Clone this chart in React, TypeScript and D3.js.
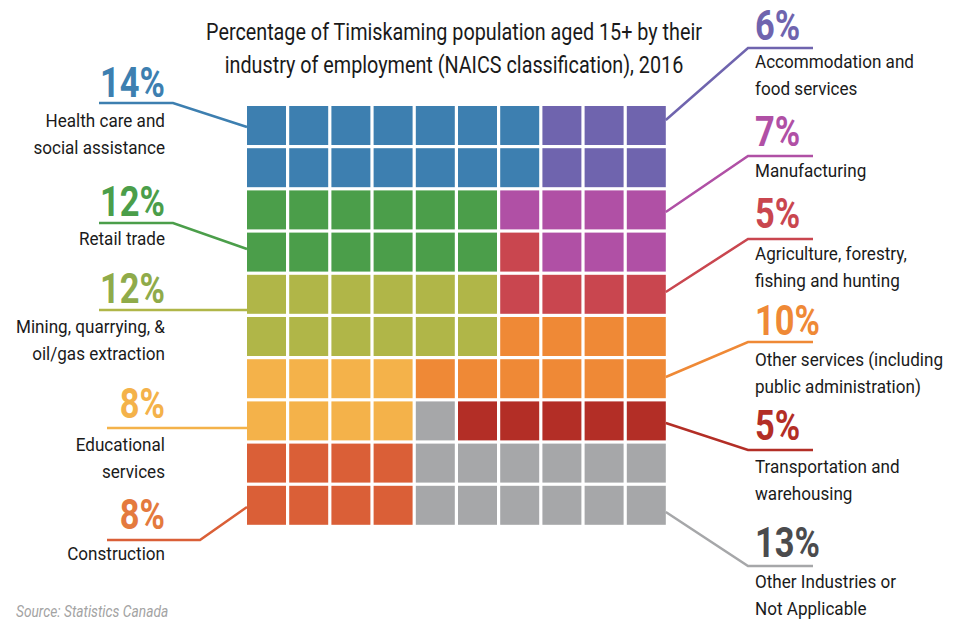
import React from "react";
import * as d3 from "d3";

const categories = [
  "Health care and social assistance",
  "Retail trade",
  "Mining, quarrying, & oil/gas extraction",
  "Educational services",
  "Construction",
  "Accommodation and food services",
  "Manufacturing",
  "Agriculture, forestry, fishing and hunting",
  "Other services (including public administration)",
  "Transportation and warehousing",
  "Other Industries or Not Applicable",
];
const labelLines = [
  ["Health care and", "social assistance"],
  ["Retail trade"],
  ["Mining, quarrying, &", "oil/gas extraction"],
  ["Educational", "services"],
  ["Construction"],
  ["Accommodation and", "food services"],
  ["Manufacturing"],
  ["Agriculture, forestry,", "fishing and hunting"],
  ["Other services (including", "public administration)"],
  ["Transportation and", "warehousing"],
  ["Other Industries or", "Not Applicable"],
];
const values = [14, 12, 12, 8, 8, 6, 7, 5, 10, 5, 13];
const sides = ["left", "left", "left", "left", "left", "right", "right", "right", "right", "right", "right"];
const cellColors = [
  "#3d7fb0", "#4b9e4a", "#b0b648", "#f4b24a", "#da5f37",
  "#6f64ae", "#b050a5", "#c9464f", "#ef8936", "#b32e26", "#a6a7a9",
];
const pctColors = [
  "#3d7fb0", "#4b9e4a", "#8fab4a", "#f4b24a", "#e47a3e",
  "#6f64ae", "#b050a5", "#c9464f", "#ef8936", "#b32e26", "#4b4b4d",
];
const lineColors = [
  "#3d7fb0", "#4b9e4a", "#b0b648", "#f4b24a", "#da5f37",
  "#6f64ae", "#b050a5", "#c9464f", "#ef8936", "#b32e26", "#a6a7a9",
];
const titleLines = [
  "Percentage of Timiskaming population aged 15+ by their",
  "industry of employment (NAICS classification), 2016",
];
const sourceText = "Source: Statistics Canada";

// annotation layout (pixels): pct baseline, underline y, outer x of underline, elbow x, end y at grid, first label baseline
const annLayout = [
  { pctY: 97, lineY: 103, outerX: 99, elbowX: 173, endY: 127, labelY: 127 },
  { pctY: 216, lineY: 223, outerX: 99, elbowX: 173, endY: 249, labelY: 245 },
  { pctY: 303, lineY: 310, outerX: 99, elbowX: null, endY: 310, labelY: 333 },
  { pctY: 418, lineY: 428, outerX: 107, elbowX: null, endY: 428, labelY: 451 },
  { pctY: 529, lineY: 540, outerX: 107, elbowX: 200, endY: 507, labelY: 560 },
  { pctY: 40, lineY: 48, outerX: 813, elbowX: 748, endY: 120, labelY: 68 },
  { pctY: 146, lineY: 156, outerX: 813, elbowX: 748, endY: 212, labelY: 177 },
  { pctY: 228, lineY: 239, outerX: 813, elbowX: 748, endY: 292, labelY: 260 },
  { pctY: 335, lineY: 342, outerX: 813, elbowX: 748, endY: 377, labelY: 366 },
  { pctY: 440, lineY: 450, outerX: 813, elbowX: 748, endY: 423, labelY: 473 },
  { pctY: 557, lineY: 566, outerX: 813, elbowX: 748, endY: 512, labelY: 588 },
];

const W = 966;
const H = 620;
const N = 10;
const FONT = "Roboto, 'Open Sans', sans-serif";

function buildGrid(): number[][] {
  const grid: number[][] = d3.range(N).map(() => d3.range(N).map(() => -1));
  let band = 0;
  values.forEach((v, i) => {
    if (sides[i] !== "left") return;
    for (let k = 0; k < v; k++) {
      const col = Math.floor(k / 2);
      const row = band * 2 + (k % 2);
      grid[row][col] = i;
    }
    band++;
  });
  const rightIdx = values.map((_, i) => i).filter((i) => sides[i] === "right");
  let q = 0;
  let remaining = rightIdx.length ? values[rightIdx[0]] : 0;
  for (let r = 0; r < N; r++) {
    for (let c = N - 1; c >= 0; c--) {
      if (grid[r][c] !== -1) continue;
      while (remaining === 0 && q < rightIdx.length - 1) {
        q++;
        remaining = values[rightIdx[q]];
      }
      if (remaining > 0) {
        grid[r][c] = rightIdx[q];
        remaining--;
      }
    }
  }
  return grid;
}

function T(props: any) {
  const { x, y, sx = 1, children, ...rest } = props;
  return (
    <text transform={`translate(${x},${y}) scale(${sx},1)`} {...rest}>
      {children}
    </text>
  );
}

export default function App() {
  const x = d3.scaleBand<number>().domain(d3.range(N)).range([247, 665.8]).paddingInner(0.076);
  const y = d3.scaleBand<number>().domain(d3.range(N)).range([106, 524.8]).paddingInner(0.076);
  const grid = buildGrid();
  const gridLeft = x(0)!;
  const gridRight = x(N - 1)! + x.bandwidth();
  const line = d3.line();

  const cells: any[] = [];
  grid.forEach((row, r) =>
    row.forEach((ci, c) => {
      if (ci < 0) return;
      cells.push(
        <rect
          key={`${r}-${c}`}
          x={x(c)}
          y={y(r)}
          width={x.bandwidth()}
          height={y.bandwidth()}
          fill={cellColors[ci]}
        >
          <title>{categories[ci]}</title>
        </rect>
      );
    })
  );

  return (
    <svg
      width={W}
      height={H}
      style={{ position: "absolute", left: 0, top: 0, background: "#fff" }}
      fontFamily={FONT}
    >
      <rect width={W} height={H} fill="#fff" />
      {titleLines.map((t, i) => (
        <T key={t} x={454} y={40 + i * 33} sx={0.86} textAnchor="middle" fontSize={23} fill="#1a1a1a">
          {t}
        </T>
      ))}

      {values.map((v, i) => {
        const L = annLayout[i];
        const left = sides[i] === "left";
        const gx = left ? gridLeft : gridRight;
        const pts: [number, number][] = [[L.outerX, L.lineY]];
        if (L.elbowX !== null) pts.push([L.elbowX, L.lineY]);
        pts.push([gx, L.endY]);
        return (
          <path key={"l" + i} d={line(pts)!} fill="none" stroke={lineColors[i]} strokeWidth={2.5} />
        );
      })}

      {cells}

      {values.map((v, i) => {
        const L = annLayout[i];
        const left = sides[i] === "left";
        const tx = left ? 165 : 755;
        const anchor = left ? "end" : "start";
        return (
          <g key={"a" + i}>
            <T x={tx} y={L.pctY} sx={0.82} textAnchor={anchor} fontSize={42} fontWeight={700} fill={pctColors[i]}>
              {v}%
            </T>
            {labelLines[i].map((s, j) => (
              <T key={s} x={tx} y={L.labelY + j * 26.5} sx={0.95} textAnchor={anchor} fontSize={18} fill="#1a1a1a">
                {s}
              </T>
            ))}
          </g>
        );
      })}

      <T x={16} y={617} sx={0.86} fontSize={16} fontStyle="italic" fill="#a3a3a3">
        {sourceText}
      </T>
    </svg>
  );
}
